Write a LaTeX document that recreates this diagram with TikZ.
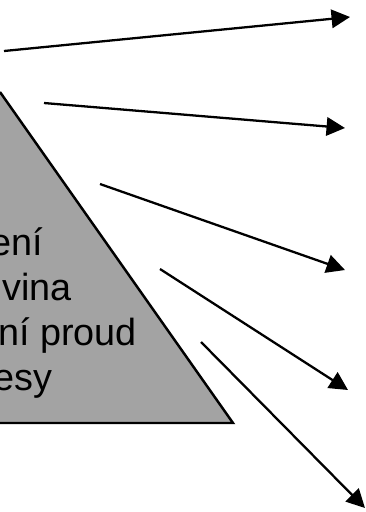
\documentclass[tikz,border=0pt]{standalone}
\usepackage{fontspec}
\setmainfont{Liberation Sans}
\usetikzlibrary{arrows.meta}
\definecolor{pyrgray}{RGB}{163,163,163}

\begin{document}
\begin{tikzpicture}[x=0.02cm, y=-0.02cm]
  \useasboundingbox (0,0) rectangle (366,512);
  \clip (0,0) rectangle (366,512);
  % Triangle
  \fill[pyrgray] (0,92) -- (233,423) -- (0,423) -- cycle;
  \draw[line width=1.4pt, line join=miter] (0,92) -- (233,423) -- (0,423);
  % Text lines
  \node[font=\fontsize{21.5pt}{25pt}\selectfont, anchor=base east, inner sep=0pt] (l1) at (43,255) {ení};
  \node[font=\fontsize{21.5pt}{25pt}\selectfont, anchor=base east, inner sep=0pt] (l2) at (72,300) {vina};
  \node[font=\fontsize{21.5pt}{25pt}\selectfont, anchor=base east, inner sep=0pt] (l3) at (137,345) {ní proud};
  \node[font=\fontsize{21.5pt}{25pt}\selectfont, anchor=base east, inner sep=0pt] (l4) at (53,390) {esy};
  % Arrows
  \foreach \i/\sx/\sy/\tx/\ty in {1/4/51/350/17, 2/44/103/345/128, 3/100/184/345/270,
                                  4/160/269/348/390, 5/201/342/365/508} {
    \coordinate (s\i) at (\sx,\sy);
    \coordinate (t\i) at (\tx,\ty);
    \draw[line width=1.3pt, -{Triangle[length=10.5pt,width=10.5pt]}] (s\i) -- (t\i);
  }
\end{tikzpicture}
\end{document}
